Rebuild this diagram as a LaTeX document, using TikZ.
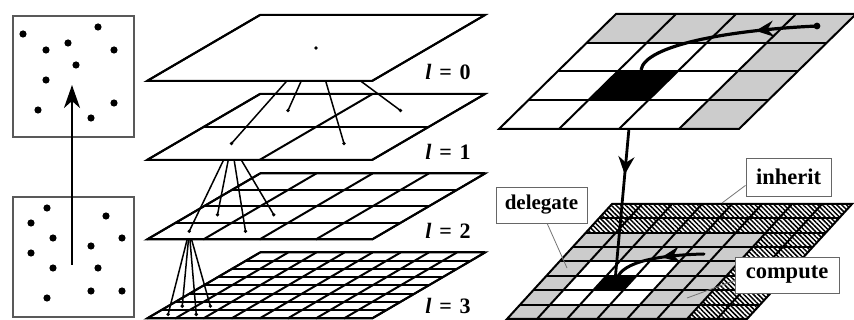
\documentclass[tikz,border=0pt]{standalone}
\usepackage{fontspec}
\setmainfont{Liberation Serif}
\usetikzlibrary{arrows.meta,patterns.meta,decorations.markings,calc}
\begin{document}
\begin{tikzpicture}[x=1pt,y=-1pt,
  edge/.style={line width=2pt},
  link/.style={line width=1.5pt},
  ptbox/.style={draw=black!65, line width=1.2pt, fill=white, inner sep=0pt, minimum width=121pt},
  lab/.style={draw=black!60, line width=0.9pt, fill=white, inner sep=0pt},
  leader/.style={draw=black!55, line width=0.8pt},
  levlab/.style={font=\fontsize{22}{22}\selectfont\bfseries, inner sep=0pt},
  hatch/.style={pattern={Lines[angle=-45,distance=3.4pt,line width=1.5pt]}},
  midarrow/.style={postaction={decorate}, decoration={markings, mark=at position #1 with {\arrow{Stealth[length=18pt,width=16pt,inset=6pt]}}}}
]
\useasboundingbox (0,0) rectangle (854,320);

% ---------------- left: point sets ----------------
\node[ptbox, minimum height=121pt] (boxA) at (73.5,76.5) {};
\node[ptbox, minimum height=120pt] (boxB) at (73.5,257) {};
\foreach \p in {(23,34),(98,27),(46,50),(68,43),(114,50),(76,65),(46,80),(38,110),(91,118),(114,103)}
  \fill \p circle (3.6pt);
\foreach \p in {(47,208),(31,223),(106,216),(53,238),(122,238),(91,246),(31,253),(53,268),(98,268),(47,298),(91,291),(122,291)}
  \fill \p circle (3.6pt);
\coordinate (aS) at (72,265);
\coordinate (aE) at (72,85);
\draw[line width=2.6pt, -{Stealth[length=23pt,width=16pt,inset=7pt]}] (aS) -- (aE);

% ---------------- middle: pyramid ----------------
\newcommand{\mylayer}[2]{%
  \begin{scope}[shift={(147,#1)}, x={(225pt,0pt)}, y={(113pt,66pt)}]
    \fill[white] (0,0)--(1,0)--(1,1)--(0,1)--cycle;
    \foreach \i in {0,...,#2} {\draw[edge] (\i/#2,0)--(\i/#2,1); \draw[edge] (0,\i/#2)--(1,\i/#2);}
    \draw[edge] (0,0)--(1,0)--(1,1)--(0,1)--cycle;
  \end{scope}}
% coordinates of the sample points
\begin{scope}[shift={(147,81)}, x={(225pt,0pt)}, y={(113pt,66pt)}]
  \coordinate (c0) at (0.5,0.5);
\end{scope}
\begin{scope}[shift={(147,160)}, x={(225pt,0pt)}, y={(113pt,66pt)}]
  \coordinate (c1a) at (0.25,0.25); \coordinate (c1b) at (0.75,0.25);
  \coordinate (c1c) at (0.25,0.75); \coordinate (c1d) at (0.75,0.75);
\end{scope}
\begin{scope}[shift={(147,239.5)}, x={(225pt,0pt)}, y={(113pt,66pt)}]
  \coordinate (c2a) at (0.125,0.125); \coordinate (c2b) at (0.375,0.125);
  \coordinate (c2c) at (0.125,0.375); \coordinate (c2d) at (0.375,0.375);
\end{scope}
\begin{scope}[shift={(147,318.5)}, x={(225pt,0pt)}, y={(113pt,66pt)}]
  \coordinate (c3a) at (0.0625,0.0625); \coordinate (c3b) at (0.1875,0.0625);
  \coordinate (c3c) at (0.0625,0.1875); \coordinate (c3d) at (0.1875,0.1875);
\end{scope}

\mylayer{318.5}{8}
\foreach \t in {c3a,c3b,c3c,c3d} {\draw[link] (c2a) -- (\t); \fill (\t) circle (1.9pt);}
\mylayer{239.5}{4}
\foreach \t in {c2a,c2b,c2c,c2d} {\draw[link] (c1a) -- (\t); \fill (\t) circle (1.9pt);}
\mylayer{160}{2}
\foreach \t in {c1a,c1b,c1c,c1d} {\draw[link] (c0) -- (\t); \fill (\t) circle (1.9pt);}
\mylayer{81}{1}
\fill (c0) circle (1.9pt);

\node[levlab] (l0) at (448,72) {{\itshape l}\hspace{0.35em}=\hspace{0.35em}0};
\node[levlab] (l1) at (448,152) {{\itshape l}\hspace{0.35em}=\hspace{0.35em}1};
\node[levlab] (l2) at (448,231) {{\itshape l}\hspace{0.35em}=\hspace{0.35em}2};
\node[levlab] (l3) at (448,306) {{\itshape l}\hspace{0.35em}=\hspace{0.35em}3};

% ---------------- right: two grids ----------------
\begin{scope}[shift={(499,129)}, x={(60pt,0pt)}, y={(29.25pt,28.75pt)}]
  \coordinate (tblk) at (1.5,1.5);
\end{scope}
\coordinate (tcs) at (817,26);
\coordinate (tce) at (641,70);
\coordinate (bcs) at (704,254);
\coordinate (bce) at (617,279);
\coordinate (inhP) at (722,203);
\coordinate (delP) at (567,268);
\coordinate (cmpP) at (687,298);

% bottom (fine) grid
\begin{scope}[shift={(507,319)}, x={(30pt,0pt)}, y={(13.125pt,14.375pt)}]
  \fill[gray!40] (0,0)--(8,0)--(8,8)--(0,8)--cycle;
  \fill[white] (6,0)--(8,0)--(8,8)--(0,8)--(0,6)--(6,6)--cycle;
  \fill[hatch] (6,0)--(8,0)--(8,8)--(0,8)--(0,6)--(6,6)--cycle;
  \fill[white] (1,1)--(4,1)--(4,4)--(1,4)--cycle;
  \fill[black] (2,2)--(3,2)--(3,3)--(2,3)--cycle;
  \foreach \i in {1,...,7} {\draw[edge] (\i,0)--(\i,8); \draw[edge] (0,\i)--(8,\i);}
  \draw[edge] (0,0)--(8,0)--(8,8)--(0,8)--cycle;
  \coordinate (bblk) at (2.5,2.5);
\end{scope}
\draw[line width=3pt, line cap=round, midarrow=0.45] (bcs) .. controls (662,255) and (622,261) .. (bce);
\draw[line width=2.8pt, midarrow=0.45] (tblk) -- (bblk);

% top (coarse) grid
\begin{scope}[shift={(499,129)}, x={(60pt,0pt)}, y={(29.25pt,28.75pt)}]
  \fill[white] (0,0)--(4,0)--(4,4)--(0,4)--cycle;
  \fill[gray!40] (3,0)--(4,0)--(4,4)--(0,4)--(0,3)--(3,3)--cycle;
  \fill[black] (1,1)--(2,1)--(2,2)--(1,2)--cycle;
  \foreach \i in {1,...,3} {\draw[edge] (\i,0)--(\i,4); \draw[edge] (0,\i)--(4,\i);}
  \draw[edge] (0,0)--(4,0)--(4,4)--(0,4)--cycle;
\end{scope}
\draw[line width=3.2pt, midarrow=0.33] (tcs) .. controls (730,30) and (645,45) .. (tce);
\fill (tcs) circle (3.4pt);

% labels
\node[lab, minimum width=91pt, minimum height=36pt, font=\fontsize{21}{21}\selectfont\bfseries] (delegate) at (541.5,205) {delegate};
\node[lab, minimum width=85pt, minimum height=38pt, font=\fontsize{22.5}{22.5}\selectfont\bfseries] (inherit) at (788.5,177) {inherit};
\node[lab, minimum width=104pt, minimum height=36pt, font=\fontsize{22.5}{22.5}\selectfont\bfseries] (compute) at (787,275) {compute};
\draw[leader] (inherit.191) -- (inhP);
\draw[leader] (delegate.287) -- (delP);
\draw[leader] (compute.186) -- (cmpP);
\end{tikzpicture}
\end{document}
